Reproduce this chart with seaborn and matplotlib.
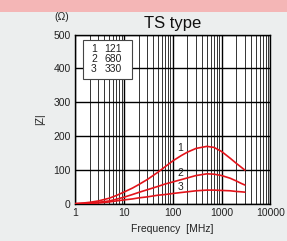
import matplotlib
matplotlib.use("Agg")
import matplotlib.pyplot as plt
import matplotlib.ticker as mticker
from matplotlib.patches import Rectangle
import seaborn as sns
import pandas as pd

# data (|Z| in ohm vs frequency in MHz)
freq = [1, 1.5, 2, 3, 5, 7, 10, 15, 20, 30, 50, 70, 100, 150, 200, 300,
        500, 700, 1000, 1500, 2000, 2500, 3000]
z_121 = [1, 3, 5, 9, 17, 25, 35, 47, 57, 72, 94, 110, 127, 143, 153, 164,
         170, 167, 155, 135, 120, 109, 100]
z_680 = [1, 2, 3, 5, 9, 14, 20, 28, 34, 42, 52, 59, 65, 72, 77, 84,
         89, 88, 84, 76, 68, 61, 56]
z_330 = [0, 1, 2, 3, 6, 9, 12, 15, 18, 21, 26, 28, 31, 34, 36, 39,
         41, 41, 40, 39, 37, 36, 35]
curve_ids = ["1", "2", "3"]
part_codes = ["121", "680", "330"]
y_ticks = [0, 100, 200, 300, 400, 500]
x_ticks = [1, 10, 100, 1000, 10000]

sns.set_style("white")
plt.rcParams['font.family'] = ['Liberation Sans', 'DejaVu Sans']

df = pd.DataFrame({
    "freq": freq * 3,
    "z": z_121 + z_680 + z_330,
    "curve": sum([[c] * len(freq) for c in curve_ids], []),
})

fig = plt.figure(figsize=(2.87, 2.41), dpi=100)
fig.patch.set_facecolor("#eceeee")
fig.patches.append(Rectangle((0, 0.95), 1, 0.05, transform=fig.transFigure,
                             facecolor="#f4b6b6", edgecolor="none", zorder=0))

ax = fig.add_axes([0.2613, 0.1535, 0.681, 0.7033])
ax.set_facecolor("white")
ax.set_xscale("log")

sns.lineplot(data=df, x="freq", y="z", units="curve", estimator=None,
             color="#e3141b", linewidth=1.2, ax=ax, legend=False, zorder=3)

ax.set_xlim(1, 10000)
ax.set_ylim(0, 500)
ax.set_yticks(y_ticks)
ax.set_xticks(x_ticks)
ax.xaxis.set_major_formatter(mticker.FuncFormatter(lambda v, p: f"{int(v)}"))
ax.xaxis.set_minor_locator(mticker.LogLocator(base=10, subs=range(2, 10)))
ax.xaxis.set_minor_formatter(mticker.NullFormatter())

ax.grid(True, which="major", axis="both", color="black", linewidth=1.0)
ax.grid(True, which="minor", axis="x", color="#333333", linewidth=0.7)
ax.tick_params(axis="y", length=0, labelsize=7.5, pad=3, colors="#222222")
ax.tick_params(axis="x", which="both", direction="in", length=2.5,
               labelsize=7.5, pad=3, labelcolor="#222222")
for s in ax.spines.values():
    s.set_color("black")
    s.set_linewidth(1.0)

ax.set_xlabel("Frequency  [MHz]", fontsize=7.5, labelpad=4, color="#222222")
ax.set_ylabel("|Z|", fontsize=7.5, labelpad=6, color="#222222")
ax.set_title("TS type", fontsize=12, pad=5, color="#111111")
fig.text(0.215, 0.93, "(Ω)", fontsize=7.5, ha="center", va="center",
         color="#222222")

# legend box with curve numbers and part codes
ax.add_patch(Rectangle((0.041, 0.737), 0.25, 0.23, transform=ax.transAxes,
                       facecolor="white", edgecolor="#444444", linewidth=0.8,
                       zorder=5))
for i, (c, p) in enumerate(zip(curve_ids, part_codes)):
    yy = 0.914 - i * 0.059
    ax.text(0.097, yy, c, transform=ax.transAxes, fontsize=7.5, ha="center",
            va="center", zorder=6, color="#222222")
    ax.text(0.240, yy, p, transform=ax.transAxes, fontsize=7.5, ha="right",
            va="center", zorder=6, color="#222222")

# curve number labels
for c, yv in zip(curve_ids, [166, 92, 51]):
    ax.text(142, yv, c, fontsize=7.5, ha="center", va="center", zorder=5,
            color="#222222")

fig.savefig("out.png", dpi=100, facecolor=fig.get_facecolor())
